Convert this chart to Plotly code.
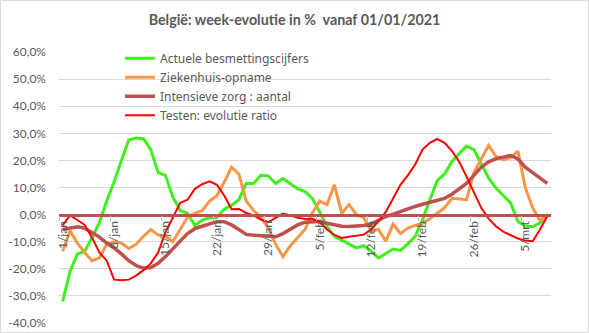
import pandas as pd
import plotly.graph_objects as go

# Days from 1 January to 8 March 2021
MONTHS = {1: "jan", 2: "feb", 3: "mrt"}
days = [f"{d.day}/{MONTHS[d.month]}" for d in pd.date_range("2021-01-01", "2021-03-08")]

# Weekly evolution in %
besmettingen = [-32, -21, -14.5, -13.5, -8.5, -3, 5, 12, 20, 27.5,
                28.3, 28, 24, 15.5, 14.5, 6.5, 1.5, 0.5, -4, -2,
                -1.2, -1, 2, 3.5, 5.5, 11.5, 11.5, 14.5, 14.3, 11.5,
                13.3, 11.5, 9.5, 8.5, 6, 1, -4.5, -8, -9.5, -11,
                -12.3, -11.5, -13.5, -16, -14.5, -12.7, -13.2, -10.8, -8, -2,
                5.5, 12.5, 15, 19.5, 22.5, 25.3, 24, 18.5, 13.5, 9.8,
                7, 4.3, -2.5, -4.2, -4.5, -3, 0]

ziekenhuis = [-13.5, -6, -10.5, -14, -17, -16, -11, -10, -10.5, -12.5,
              -11, -8, -5.5, -7.5, -8, -10, -5.5, -1, 0.5, 1.5,
              5, 7, 12, 17.5, 15, 5, 1.5, -1, -5, -11,
              -15.5, -11.5, -8.5, -5.5, 0.5, 5, 3.7, 11, 0.5, 3.7,
              0, -1.2, -6, -5.5, -9.8, -3.5, -7, -5, -4, -3.2,
              -1.5, 0.5, 2.5, 6, 5.8, 5.5, 15.5, 20.5, 25.5, 21.5,
              20.3, 21, 23.4, 10, 2.5, -2.2, -0.3]

intensieve_zorg = [-5.5, -5, -4.5, -5, -6.5, -8.3, -10.5, -12.3, -14.5, -17,
                   -18.8, -19.8, -19.5, -18, -15.5, -12.5, -9.8, -7, -5.2, -4.3,
                   -3.5, -2.6, -2.6, -3.8, -5.5, -7.3, -7.6, -7.7, -8, -8.2,
                   -7, -5.3, -3.8, -2.8, -2.5, -2.5, -3.2, -3.8, -4.3, -4.4,
                   -4.3, -4, -3.5, -2, -0.7, 0.2, 1.2, 2.2, 3, 3.8,
                   4.5, 5.3, 6, 7.5, 9.5, 11.5, 14.5, 17.5, 19.5, 20.6,
                   21.2, 21.8, 20.5, 17.5, 15.5, 13.5, 11.5]

testen = [-4, -0.3, -2, -3.8, -8.5, -14, -17, -24, -24.2, -24,
          -22.5, -20.5, -18, -14, -6.5, -1, 4.3, 5.5, 9.5, 11.2,
          12.3, 11, 7, 2, 2.1, 0.6, -0.3, -1.8, -2.8, -1.2,
          0.4, -0.3, -1.2, -1.6, -1.5, -2.8, -5.5, -7.5, -8.6, -8.2,
          -7.8, -7.4, -5.5, -2.5, 1, 6, 11, 14.5, 18.5, 24,
          26.5, 27.9, 26.5, 23.5, 19.5, 14, 8.5, 2.5, -1.5, -4.3,
          -6.3, -7.7, -8.8, -9.6, -9.8, -5.5, -0.6]

y_ticks = [-40, -30, -20, -10, 0, 10, 20, 30, 40, 50, 60]
y_tick_text = ["-40,0%", "-30,0%", "-20,0%", "-10,0%", "0,0%", "10,0%",
               "20,0%", "30,0%", "40,0%", "50,0%", "60,0%"]

series = [
    ("Actuele besmettingscijfers", besmettingen, "#3ef01c", 3),
    ("Ziekenhuis-opname", ziekenhuis, "#f79646", 3),
    ("Intensieve zorg : aantal", intensieve_zorg, "#c0504d", 3.5),
    ("Testen: evolutie ratio", testen, "#ff0000", 2),
]

FONT = "Lato, Calibri, sans-serif"
GREY = "#595959"

fig = go.Figure()
for name, values, color, width in series:
    fig.add_trace(go.Scatter(
        x=days, y=values, name=name, mode="lines",
        line=dict(color=color, width=width),
    ))

W, H = 589, 333
ML, MR, MT, MB = 59, 38, 52, 10
pw, ph = W - ML - MR, H - MT - MB

# light chart border around the whole figure
fig.add_shape(type="rect", xref="paper", yref="paper",
              x0=(0.5 - ML) / pw, x1=(W - 0.5 - ML) / pw,
              y0=(-(MB - 0.5)) / ph, y1=(H - MB - 0.5) / ph,
              line=dict(color="#d9d9d9", width=1), layer="below")

fig.update_layout(
    width=W, height=H,
    margin=dict(l=ML, r=MR, t=MT, b=MB, autoexpand=False),
    paper_bgcolor="white", plot_bgcolor="white",
    font=dict(family=FONT, color=GREY, size=12),
    title=dict(text="<b>België: week-evolutie in %\u00a0\u00a0vanaf 01/01/2021</b>",
               x=0.5, xref="container", xanchor="center",
               y=1 - 20 / H, yref="container", yanchor="middle",
               font=dict(size=14.3, color=GREY, family=FONT)),
    showlegend=True,
    legend=dict(x=(120 - ML) / pw, xanchor="left", y=1.03, yanchor="top",
                bgcolor="rgba(0,0,0,0)",
                font=dict(size=12, color=GREY, family="Noto Sans, Lato, sans-serif"),
                itemwidth=30, tracegroupgap=0),
    xaxis=dict(
        type="category", range=[-0.5, len(days) - 0.5],
        dtick=7, tick0=0, tickangle=-90, tickson="boundaries",
        ticks="outside", ticklen=5, tickcolor="#bfbfbf",
        showgrid=False, zeroline=False, automargin=False,
        showline=True, linecolor="#c0504d", linewidth=2.5,
        anchor="free", position=0.4,
        tickfont=dict(size=12, color=GREY),
    ),
    yaxis=dict(
        range=[-40, 60], tickvals=y_ticks, ticktext=y_tick_text,
        showgrid=True, gridcolor="#d9d9d9", gridwidth=1,
        zeroline=False, showline=False, ticks="", automargin=False,
        ticklabelstandoff=12,
        tickfont=dict(size=12, color=GREY),
    ),
)

fig.write_html("out.html")
